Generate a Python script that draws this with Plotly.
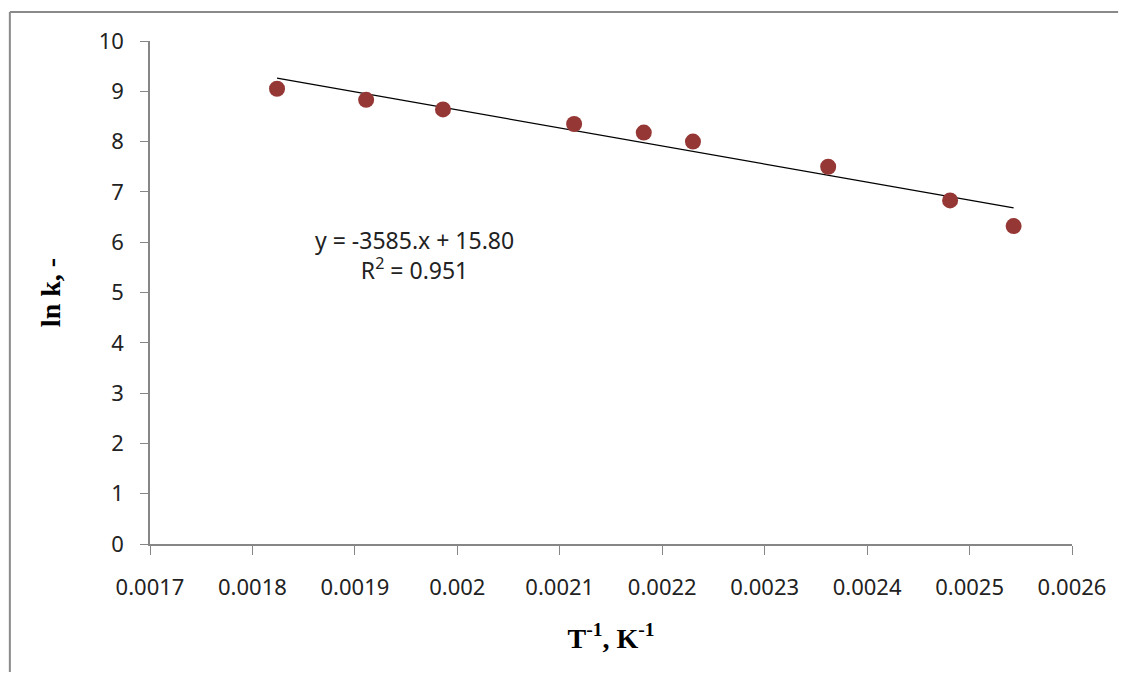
import plotly.graph_objects as go

# data
inv_temp = [0.001824, 0.001911, 0.001986, 0.002114, 0.002182, 0.002230, 0.002362, 0.002481, 0.002543]
ln_k = [9.05, 8.83, 8.64, 8.35, 8.18, 8.00, 7.50, 6.83, 6.32]

# fitted trend line (from the chart's equation)
slope = -3585.0
intercept = 15.80
r_squared = 0.951

trend_x = [min(inv_temp), max(inv_temp)]
trend_y = [slope * x + intercept for x in trend_x]

fig = go.Figure()

fig.add_trace(go.Scatter(
    x=trend_x, y=trend_y, mode="lines",
    line=dict(color="black", width=1.3),
    showlegend=False, hoverinfo="skip"
))

fig.add_trace(go.Scatter(
    x=inv_temp, y=ln_k, mode="markers",
    marker=dict(color="#953735", size=16),
    showlegend=False
))

fig.add_annotation(
    x=0.001958, y=5.75, xref="x", yref="y",
    text=f"y = {slope:.0f}.x + {intercept:.2f}<br>R<sup>2</sup> = {r_squared}",
    showarrow=False, align="center",
    font=dict(family="Noto Sans", size=23, color="#222"),
)

# outer chart frame: only top and left edges are visible in the reference
frame = dict(color="#8a8a8a", width=2)
fig.add_shape(type="line", xref="paper", yref="paper",
              x0=-0.152, x1=1.05, y0=1.0577, y1=1.0577, line=frame)
fig.add_shape(type="line", xref="paper", yref="paper",
              x0=-0.152, x1=-0.152, y0=-0.26, y1=1.0577, line=frame)

axis_font = dict(family="Noto Sans", size=22, color="#222")
title_font = dict(family="Liberation Serif", size=28, color="black")

fig.update_xaxes(
    range=[0.0017, 0.0026], tickmode="linear", tick0=0.0017, dtick=0.0001,
    tickformat="~g", showgrid=False, zeroline=False, automargin=False,
    showline=True, linecolor="#868686", linewidth=1.5,
    ticks="outside", ticklen=9, tickcolor="#868686",
    tickfont=axis_font, ticklabelstandoff=14,
    title=dict(text="<b>T<sup>-1</sup>, K<sup>-1</sup></b>", font=title_font, standoff=28),
)
fig.update_yaxes(
    range=[0, 10], dtick=1, showgrid=False, zeroline=False, automargin=False,
    showline=True, linecolor="#868686", linewidth=1.5,
    ticks="outside", ticklen=8, tickcolor="#868686",
    tickfont=axis_font, ticklabelstandoff=12,
    title=dict(text="<b>ln k, -</b>", font=title_font, standoff=30),
)

# the page adds an 8px body margin, so the figure is sized and offset for it
fig.update_layout(
    width=1111, height=664,
    margin=dict(l=142, r=47, t=33, b=128),
    plot_bgcolor="white", paper_bgcolor="white",
)

fig.write_html("out.html")
